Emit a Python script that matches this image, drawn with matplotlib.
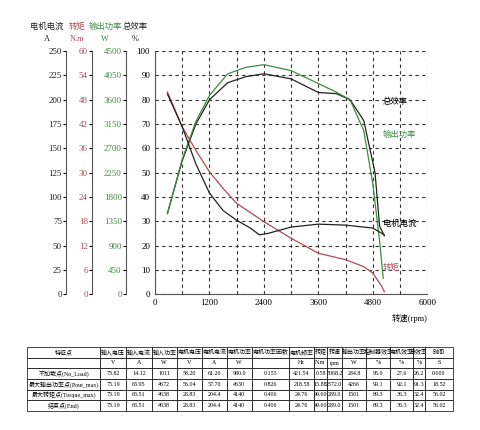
import matplotlib
matplotlib.use('Agg')
import matplotlib.pyplot as plt
import numpy as np

plt.rcParams['font.family'] = ['Liberation Serif', 'Noto Sans CJK SC', 'DejaVu Sans']

RED = '#b04a55'
GREEN = '#3f8c45'

eff_rpm = [273, 600, 900, 1200, 1600, 2000, 2400, 3000, 3600, 4000, 4300, 4600, 4850, 4950, 5055]
eff_val = [33.2, 55, 70, 80, 87, 89.5, 90.7, 88.6, 83, 82.5, 80, 71.5, 50, 28, 24]
pow_rpm = [273, 600, 900, 1200, 1600, 2000, 2400, 3000, 3600, 4000, 4300, 4600, 4800, 4950, 5030]
pow_val = [1490, 2500, 3200, 3680, 4080, 4200, 4250, 4140, 3900, 3740, 3600, 3030, 2050, 990, 294]
cur_rpm = [273, 600, 900, 1200, 1500, 1800, 2100, 2300, 2500, 3000, 3600, 4200, 4800, 5055]
cur_val = [206, 172, 134, 104, 86, 76, 68, 61, 62.6, 69, 72, 71, 68, 61]
tq_rpm = [273, 600, 900, 1200, 1500, 1800, 2400, 3000, 3600, 4200, 4600, 4800, 5000, 5055]
tq_val = [49.9, 41.3, 35.5, 30.2, 26.1, 22.4, 17.9, 13.8, 10.1, 8.5, 6.8, 5.2, 1.9, 0.6]

col_labels = ['特征点', '输入电压', '输入电流', '输入功率', '电机电压', '电机电流', '电机功率', '电机功率因数',
              '电机频率', '转矩', '转速', '输出功率', '控制器效率', '电机效率', '总效率', '时间']
units = ['', 'V', 'A', 'W', 'V', 'A', 'W', '', 'Hz', 'N.m', 'rpm', 'W', '%', '%', '%', 'S']
rows = [
    ['不加载点(No_Load)', '73.82', '14.12', '1011', '58.20', '61.20', '980.0', '0.155', '421.54', '0.58', '5068.2', '284.8', '95.0', '27.6', '26.2', '0.000'],
    ['最大输出功率点(Pout_max)', '73.19', '63.95', '4672', '56.04', '57.70', '4630', '0.826', '218.58', '15.88', '2372.0', '4266', '99.1', '92.1', '91.3', '18.52'],
    ['最大转矩点(Torque_max)', '73.19', '63.51', '4638', '28.83', '204.4', '4140', '0.406', '24.76', '49.60', '289.0', '1501', '89.3', '36.3', '32.4', '56.02'],
    ['结束点(End)', '73.19', '63.51', '4638', '28.83', '204.4', '4140', '0.406', '24.76', '49.60', '289.0', '1501', '89.3', '36.3', '32.4', '56.02'],
]
col_w = [220, 78, 77, 75, 75, 75, 75, 113, 74, 40, 43, 75, 72, 68, 35, 85]

fig = plt.figure(figsize=(4.8, 4.3), dpi=100)
ax = fig.add_axes([0.323, 0.316, 0.567, 0.565])
ax.plot(eff_rpm, eff_val, color='#222222', lw=0.9)
ax.set_xlim(0, 6000)
ax.set_ylim(0, 100)
ax.set_xticks(np.arange(0, 6001, 1200))
ax.set_xticks(np.arange(0, 6001, 600), minor=True)
ax.set_yticks(np.arange(0, 101, 10))
ax.grid(True, which='both', ls=(0, (3, 3)), color='#333333', lw=0.8)
ax.tick_params(which='both', length=0, labelsize=6.5)
for s in ['top', 'right']:
    ax.spines[s].set_visible(False)
for s in ['left', 'bottom']:
    ax.spines[s].set_color('#555555')
ax.text(6000, -8, '转速(rpm)', ha='right', va='top', fontsize=6)

def extra(pos, lim, step, color, values, rpm, lc):
    a = ax.twinx()
    a.spines['left'].set_position(('axes', pos))
    a.spines['left'].set_visible(True)
    a.spines['left'].set_color('#555555')
    a.yaxis.set_ticks_position('left')
    a.yaxis.set_label_position('left')
    for s in ['right', 'top', 'bottom']:
        a.spines[s].set_visible(False)
    a.set_ylim(0, lim)
    a.set_yticks(np.arange(0, lim + 0.1, step))
    a.tick_params(axis='y', labelsize=6.5, labelcolor=color, length=2, pad=1)
    a.plot(rpm, values, color=lc, lw=0.9)
    return a

extra(-0.107, 4500, 450, GREEN, pow_val, pow_rpm, GREEN)
extra(-0.232, 60, 6, RED, tq_val, tq_rpm, RED)
extra(-0.327, 250, 25, '#222222', cur_val, cur_rpm, '#222222')

heads = [(-0.397, '电机电流', 'A', '#222222'), (-0.287, '转矩', 'N.m', RED),
         (-0.184, '输出功率', 'W', GREEN), (-0.074, '总效率', '%', '#222222')]
for x, t, u, c in heads:
    ax.text(x, 1.09, t, transform=ax.transAxes, ha='center', fontsize=6, color=c)
    ax.text(x, 1.04, u, transform=ax.transAxes, ha='center', fontsize=6, color=c)

ax.text(5020, 79, '总效率', fontsize=6, va='center')
ax.text(5020, 65.7, '输出功率', fontsize=6, va='center', color=GREEN)
ax.text(5020, 29, '电机电流', fontsize=6, va='center')
ax.text(5020, 11, '转矩', fontsize=6, va='center', color=RED)

tax = fig.add_axes([27 / 480, 19 / 430, 426 / 480, 64 / 430])
tax.axis('off')
tw = np.array(col_w, float) / sum(col_w)
cells = [col_labels, units] + rows
tb = tax.table(cellText=cells, colWidths=tw, bbox=[0, 0, 1, 1], cellLoc='center')
tb.auto_set_font_size(False)
for (r, c), cell in tb.get_celld().items():
    cell.set_linewidth(0.5)
    cell.set_fontsize(4.3)
    cell.PAD = 0.02
    if r >= 2 and c > 0:
        cell._loc = 'right'
fig.savefig('out.png', dpi=100)
